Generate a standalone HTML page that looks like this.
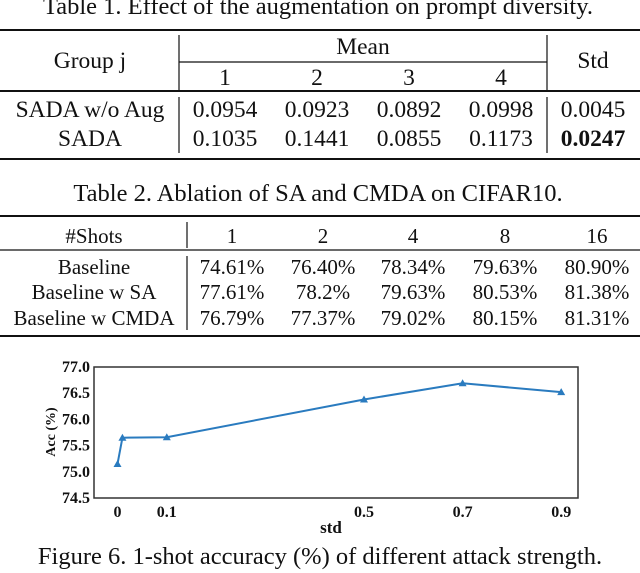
<!DOCTYPE html>
<html><head><meta charset="utf-8"><style>
html,body{margin:0;padding:0;background:#fff}
svg{display:block;font-family:"Liberation Serif",serif}
</style></head><body>
<svg width="640" height="573" viewBox="0 0 640 573">
<!-- Table 1 -->
<g font-size="23.5" fill="#111" text-anchor="middle">
<text x="318" y="14" font-size="24.5">Table 1. Effect of the augmentation on prompt diversity.</text>
<line x1="0" x2="640" y1="30" y2="30" stroke="#111" stroke-width="2"/>
<line x1="179" x2="179" y1="35" y2="90" stroke="#111" stroke-width="1.2"/>
<line x1="547" x2="547" y1="35" y2="90" stroke="#111" stroke-width="1.2"/>
<line x1="179" x2="547" y1="62" y2="62" stroke="#111" stroke-width="1.2"/>
<line x1="0" x2="640" y1="91" y2="91" stroke="#111" stroke-width="2"/>
<line x1="179" x2="179" y1="97" y2="153" stroke="#111" stroke-width="1.2"/>
<line x1="547" x2="547" y1="97" y2="153" stroke="#111" stroke-width="1.2"/>
<line x1="0" x2="640" y1="159" y2="159" stroke="#111" stroke-width="2"/>
<text x="90" y="68">Group j</text>
<text x="363" y="54">Mean</text>
<text x="225" y="85">1</text><text x="317" y="85">2</text><text x="409" y="85">3</text><text x="501" y="85">4</text>
<text x="593" y="68">Std</text>
<text x="90" y="117">SADA w/o Aug</text>
<text x="225" y="117">0.0954</text><text x="317" y="117">0.0923</text><text x="409" y="117">0.0892</text><text x="501" y="117">0.0998</text><text x="593" y="117">0.0045</text>
<text x="90" y="146">SADA</text>
<text x="225" y="146">0.1035</text><text x="317" y="146">0.1441</text><text x="409" y="146">0.0855</text><text x="501" y="146">0.1173</text><text x="593" y="146" font-weight="bold">0.0247</text>
</g>
<!-- Table 2 -->
<g font-size="21" fill="#111" text-anchor="middle">
<text x="318" y="201" font-size="24.5">Table 2. Ablation of SA and CMDA on CIFAR10.</text>
<line x1="0" x2="640" y1="216" y2="216" stroke="#111" stroke-width="2"/>
<line x1="187" x2="187" y1="222" y2="248" stroke="#111" stroke-width="1.2"/>
<line x1="0" x2="640" y1="250" y2="250" stroke="#111" stroke-width="1.2"/>
<line x1="187" x2="187" y1="256" y2="330" stroke="#111" stroke-width="1.2"/>
<line x1="0" x2="640" y1="336" y2="336" stroke="#111" stroke-width="2"/>
<text x="94" y="243">#Shots</text>
<text x="232" y="243">1</text><text x="323" y="243">2</text><text x="413" y="243">4</text><text x="505" y="243">8</text><text x="597" y="243">16</text>
<text x="94" y="274">Baseline</text>
<text x="232" y="274">74.61%</text><text x="323" y="274">76.40%</text><text x="413" y="274">78.34%</text><text x="505" y="274">79.63%</text><text x="597" y="274">80.90%</text>
<text x="94" y="299">Baseline w SA</text>
<text x="232" y="299">77.61%</text><text x="323" y="299">78.2%</text><text x="413" y="299">79.63%</text><text x="505" y="299">80.53%</text><text x="597" y="299">81.38%</text>
<text x="94" y="325">Baseline w CMDA</text>
<text x="232" y="325">76.79%</text><text x="323" y="325">77.37%</text><text x="413" y="325">79.02%</text><text x="505" y="325">80.15%</text><text x="597" y="325">81.31%</text>
</g>
<!-- Chart -->
<g id="chart"></g>
<text x="320" y="564" font-size="24.5" text-anchor="middle" fill="#111">Figure 6. 1-shot accuracy (%) of different attack strength.</text>
</svg>
<script>
const stdValues = [0, 0.01, 0.1, 0.5, 0.7, 0.9];
const accValues = [75.15, 75.65, 75.66, 76.38, 76.69, 76.52];
const xTickValues = [0, 0.1, 0.5, 0.7, 0.9];
const xTickLabels = ["0", "0.1", "0.5", "0.7", "0.9"];
const yTickValues = [74.5, 75.0, 75.5, 76.0, 76.5, 77.0];
const yTickLabels = ["74.5", "75.0", "75.5", "76.0", "76.5", "77.0"];

const NS = "http://www.w3.org/2000/svg";
const g = document.getElementById("chart");
const L = 94, R = 578, T = 367, B = 498;
function xs(v){ return 117.5 + 493 * v; }
function ys(v){ return B - (v - 74.5) / 2.5 * (B - T); }
function mk(tag, attrs){ const e = document.createElementNS(NS, tag); for (const k in attrs) e.setAttribute(k, attrs[k]); g.appendChild(e); return e; }

const frame = mk("rect", {x: L, y: T, width: R - L, height: B - T, fill: "none", stroke: "#333", "stroke-width": 1.5});



yTickValues.forEach((v, i) => {
  const t = mk("text", {x: 90, y: ys(v) + 5, "text-anchor": "end", "font-size": 16, "font-weight": "bold", fill: "#111"});
  t.textContent = yTickLabels[i];
  
  
});
xTickValues.forEach((v, i) => {
  const t = mk("text", {x: xs(v), y: 517, "text-anchor": "middle", "font-size": 16, "font-weight": "bold", fill: "#111"});
  t.textContent = xTickLabels[i];
  
  
});
const xt = mk("text", {x: 331, y: 533, "text-anchor": "middle", "font-size": 17, "font-weight": "bold", fill: "#111"});
xt.textContent = "std";


const yt = mk("text", {x: 0, y: 0, "text-anchor": "middle", "font-size": 14, "font-weight": "bold", fill: "#111", transform: "translate(55,432) rotate(-90)"});
yt.textContent = "Acc (%)";



const pts = stdValues.map((v, i) => xs(v) + "," + ys(accValues[i])).join(" ");
const line = mk("polyline", {points: pts, fill: "none", stroke: "#2a7bbf", "stroke-width": 2});


stdValues.forEach((v, i) => {
  const x = xs(v), y = ys(accValues[i]);
  const m = mk("polygon", {points: `${x},${y-4} ${x-4},${y+3} ${x+4},${y+3}`, fill: "#2a7bbf"});
  
  
});
</script>
</body></html>
